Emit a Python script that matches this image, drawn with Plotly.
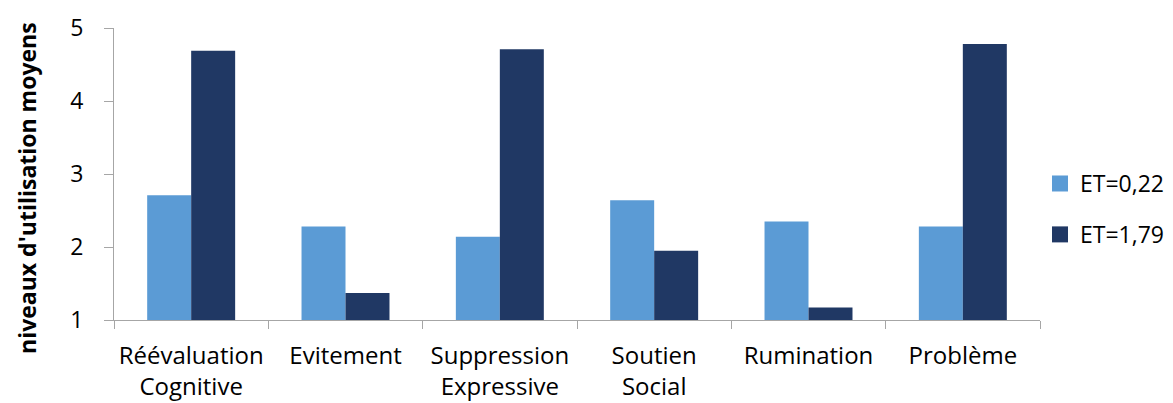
import plotly.graph_objects as go

categories = ["Réévaluation<br>Cognitive", "Evitement", "Suppression<br>Expressive",
              "Soutien<br>Social", "Rumination", "Problème"]
series_names = ["ET=0,22", "ET=1,79"]
values_low = [2.71, 2.28, 2.14, 2.64, 2.35, 2.28]
values_high = [4.69, 1.37, 4.71, 1.95, 1.17, 4.78]
colors = ["#5B9BD5", "#203864"]
y_ticks = [1, 2, 3, 4, 5]
y_title = "niveaux d'utilisation moyens"

FONT = "'Open Sans', sans-serif"

fig = go.Figure()
for i, (name, vals) in enumerate(zip(series_names, [values_low, values_high])):
    fig.add_trace(go.Bar(
        x=categories, y=vals, name=name,
        marker=dict(color=colors[i], line=dict(width=0)),
        showlegend=False,
    ))
    # legend entry with a larger square swatch
    fig.add_trace(go.Scatter(
        x=[None], y=[None], mode="markers", name=name,
        marker=dict(symbol="square", size=16, color=colors[i], line=dict(width=0)),
        legendgroup=name, showlegend=True,
    ))

fig.update_layout(
    width=1165, height=395,
    margin=dict(l=106, r=133, t=20, b=83, autoexpand=False),
    plot_bgcolor="white", paper_bgcolor="white",
    barmode="group", bargap=0.43, bargroupgap=0,
    font=dict(family=FONT, size=24, color="#000000"),
    showlegend=True,
    legend=dict(x=1.0, y=0.38, xanchor="left", yanchor="middle",
                font=dict(size=23), tracegroupgap=18, itemwidth=30,
                itemsizing="trace", bgcolor="rgba(0,0,0,0)"),
    xaxis=dict(showgrid=False, showline=True, linecolor="#A6A6A6", linewidth=1,
               ticks="outside", tickson="boundaries", ticklen=8, tickcolor="#A6A6A6",
               tickfont=dict(size=24), zeroline=False, automargin=False,
               ticklabelstandoff=14),
    yaxis=dict(range=[1, 5], tickvals=y_ticks, showgrid=False, showline=True,
               linecolor="#A6A6A6", linewidth=1, ticks="outside", ticklen=9,
               tickcolor="#A6A6A6", tickfont=dict(size=23), zeroline=False,
               ticklabelstandoff=16, automargin=False),
    annotations=[dict(text="<b>" + y_title + "</b>", textangle=-90,
                      xref="paper", yref="paper", x=-0.094, y=0.452,
                      xanchor="center", yanchor="middle", showarrow=False,
                      font=dict(size=23))],
)

fig.write_html("out.html")
